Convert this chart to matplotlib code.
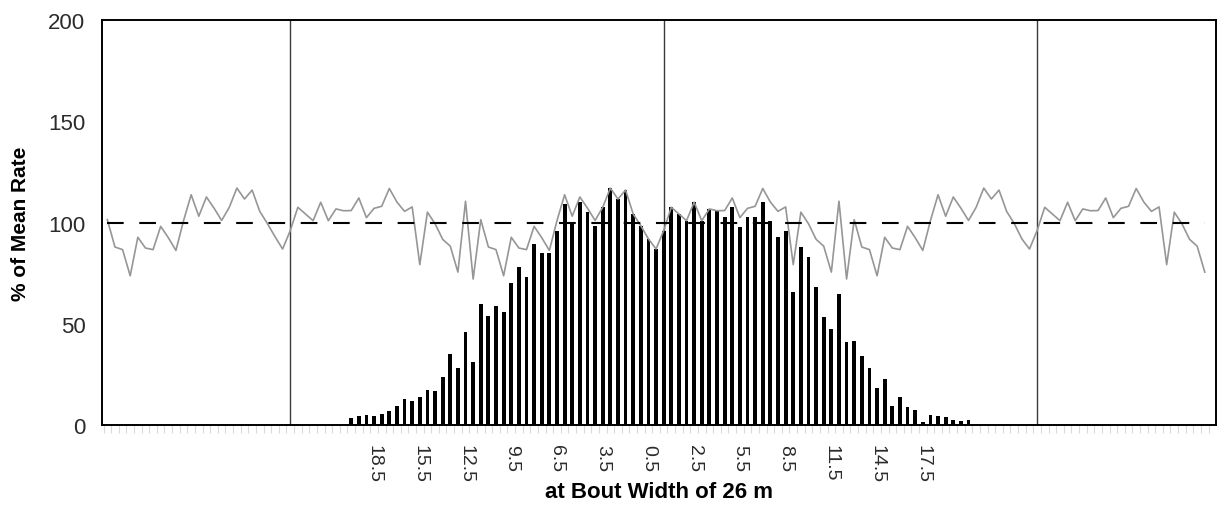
import numpy as np
import matplotlib.pyplot as plt

plt.rcParams['font.family'] = ['Liberation Sans', 'DejaVu Sans']

# --- data ---
# spread pattern of a single pass (0.5 m classes, -20 m .. +20.5 m)
bar_pos = np.arange(-20, 20.75, 0.5)
bar_pct = [3.3, 4.6, 4.8, 4.4, 5.4, 6.8, 9.2, 12.8, 11.7, 13.7,
           17.4, 16.6, 23.7, 35.1, 28.1, 45.8, 31.3, 59.8, 54.0, 58.6,
           55.6, 70.0, 77.9, 72.9, 89.4, 84.9, 84.9, 96.0, 109.1, 99.3,
           110.0, 105.0, 98.4, 107.5, 117.0, 111.6, 116.0, 104.2, 98.4, 91.9,
           86.9, 96.0, 107.5, 104.2, 100.9, 110.0, 100.9, 106.7, 105.8, 102.6,
           107.5, 97.6, 102.6, 102.6, 110.0, 100.9, 92.7, 96.0, 65.5, 87.7,
           82.8, 68.0, 53.2, 47.4, 64.7, 40.8, 41.6, 33.9, 28.0, 18.1,
           22.7, 9.5, 13.7, 8.7, 7.6, 1.3, 4.9, 4.6, 3.8, 2.6,
           2.1, 2.6]

# overlapped application rate (-36 m .. +36 m)
line_pos = np.arange(-36, 36.25, 0.5)
line_pct = [101.4, 87.9, 86.6, 73.7, 92.7, 87.4, 86.6, 98.1, 92.5, 86.2,
            100.9, 113.7, 103.1, 112.6, 107.1, 101.0, 107.5, 117.0, 111.6, 116.0,
            105.5, 99.5, 93.0, 86.9, 96.0, 107.5, 104.2, 100.9, 110.0, 100.9,
            106.7, 105.8, 105.9, 112.1, 102.4, 107.0, 108.0, 116.8, 110.1, 105.5,
            107.7, 79.2, 105.1, 99.4, 91.7, 88.3, 75.5, 110.5,
            72.1, 101.4, 87.9, 86.6, 73.7, 92.7, 87.4, 86.6, 98.1, 92.5,
            86.2, 100.9, 113.7, 103.1, 112.6, 107.1, 101.0, 107.5, 117.0, 111.6,
            116.0, 104.2, 98.4, 91.9, 86.9, 96.0, 107.5, 104.2, 100.9, 110.0,
            100.9, 106.7, 105.8, 105.9, 112.1, 102.4, 107.0, 108.0, 116.8, 110.1,
            105.5, 107.7, 79.2, 105.1, 99.4, 91.7, 88.3, 75.5, 110.5,
            72.1, 101.4, 87.9, 86.6, 73.7, 92.7, 87.4, 86.6, 98.1, 92.5,
            86.2, 100.9, 113.7, 103.1, 112.6, 107.1, 101.0, 107.5, 117.0, 111.6,
            116.0, 105.5, 99.5, 91.9, 86.9, 96.0, 107.5, 104.2, 100.9, 110.0,
            100.9, 106.7, 105.8, 105.9, 112.1, 102.4, 107.0, 108.0, 116.8, 110.1,
            105.5, 107.7, 79.2, 105.1, 99.4, 91.7, 88.3, 75.5]
mean_pct = 100

section_x = [-24, 0.5, 25]      # bout boundaries
tick_pos = [-18.5, -15.5, -12.5, -9.5, -6.5, -3.5, -0.5,
            2.5, 5.5, 8.5, 11.5, 14.5, 17.5]
tick_lab = ["18.5", "15.5", "12.5", "9.5", "6.5", "3.5", "0.5",
            "2.5", "5.5", "8.5", "11.5", "14.5", "17.5"]

fig = plt.figure(figsize=(12.23, 5.06), dpi=100)
ax = fig.add_axes([0.0834, 0.1581, 0.9108, 0.8004])

for xs in section_x:
    ax.axvline(xs, color='#3a3a3a', lw=1.0, zorder=1)

ax.bar(bar_pos, bar_pct, width=0.25, color='black', zorder=2)
ax.plot(line_pos, line_pct, color='#969696', lw=1.2, zorder=3)
ax.plot([line_pos[0], line_pos[-1]], [mean_pct, mean_pct], color='black',
        lw=1.5, dashes=(8, 7.5), zorder=4)

ax.set_xlim(-36.35, 36.73)
ax.set_ylim(0, 200)
ax.set_yticks([0, 50, 100, 150, 200])
ax.tick_params(axis='y', length=0, pad=12, labelsize=16, labelcolor='#2b2b2b')

ax.set_xticks(tick_pos)
ax.set_xticklabels(tick_lab, rotation=-90, va='top', ha='center')
ax.set_xticks(np.arange(-36.25, 36.75, 0.5), minor=True)
ax.tick_params(axis='x', which='major', length=0, pad=14, labelsize=14,
               labelcolor='#2b2b2b')
ax.tick_params(axis='x', which='minor', length=6, width=0.8,
               color='#dadada', direction='out')

for sp in ax.spines.values():
    sp.set_linewidth(1.4)
    sp.set_color('black')

ax.set_ylabel('% of Mean Rate', fontsize=15, fontweight='bold', va='center')
ax.yaxis.set_label_coords(-0.0736, 0.5)
ax.set_xlabel('at Bout Width of 26 m', fontsize=16, fontweight='bold', va='center')
ax.xaxis.set_label_coords(0.5, -0.165)

fig.savefig('out.png', dpi=100)
